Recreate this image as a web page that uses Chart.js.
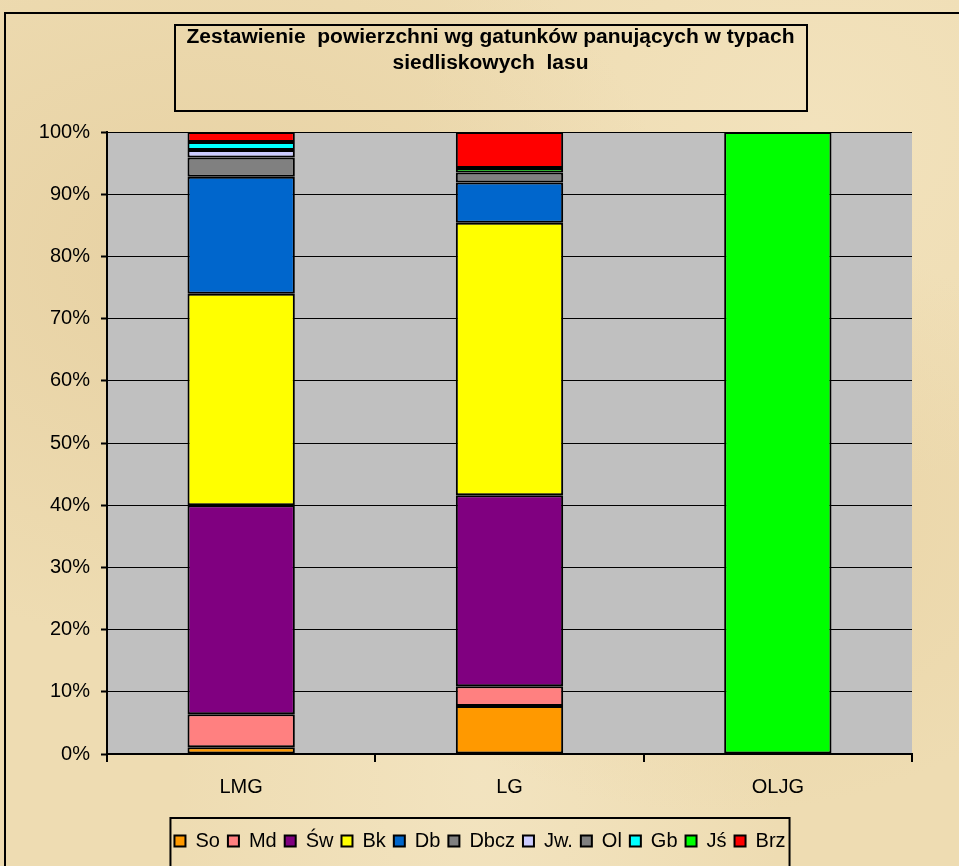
<!DOCTYPE html>
<html lang="pl">
<head>
  <meta charset="UTF-8" />
  <title>Zestawienie powierzchni wg gatunków panujących</title>
  <script src="https://cdn.jsdelivr.net/npm/chart.js"></script>
  <style>
    body {
      margin: 0;
      width: 959px;
      height: 866px;
      overflow: hidden;
      position: relative;
      font-family: Arial, "Liberation Sans", sans-serif;
      background-color: #eedcb2;
      background-image:
        radial-gradient(ellipse at 20% 30%, rgba(225, 200, 150, 0.55), transparent 45%),
        radial-gradient(ellipse at 75% 60%, rgba(230, 205, 155, 0.5), transparent 40%),
        radial-gradient(ellipse at 50% 90%, rgba(245, 232, 200, 0.6), transparent 45%),
        radial-gradient(ellipse at 85% 15%, rgba(245, 230, 195, 0.6), transparent 35%);
    }
    .frame {
      position: absolute;
      left: 4px;
      top: 12px;
      width: 1000px;
      height: 900px;
      border: 2px solid #000;
    }
    .title-box {
      position: absolute;
      left: 174px;
      top: 24px;
      width: 630px;
      height: 84px;
      border: 2px solid #000;
      text-align: center;
      font-weight: bold;
      font-size: 20px;
      line-height: 26px;
      color: #000;
    }
    .title-box span {
      position: relative;
      top: -3px;
      display: inline-block;
      transform: scaleX(1.05);
    }
    canvas {
      position: absolute;
      left: 0;
      top: 0;
    }
  </style>
</head>
<body>
  <div class="frame"></div>
  <canvas id="chart" width="959" height="866"></canvas>
  <div class="title-box"><span>Zestawienie&nbsp; powierzchni wg gatunków panujących w typach<br>siedliskowych&nbsp; lasu</span></div>

  <script>
  // categories (typy siedliskowe)
  const categories = ['LMG', 'LG', 'OLJG'];

  // share of each species, in %
  const So   = [1.1, 7.7, 0];
  const Md   = [5.3, 3.2, 0];
  const Sw   = [33.6, 30.7, 0];
  const Bk   = [34.0, 43.8, 0];
  const Db   = [18.8, 6.5, 0];
  const Dbcz = [3.1, 1.6, 0];
  const Jw   = [1.2, 0, 0];
  const Ol   = [0, 0, 0];
  const Gb   = [1.3, 0, 0];
  const Js   = [0, 0.7, 100];
  const Brz  = [1.6, 5.8, 0];

  const yTicks = [0, 10, 20, 30, 40, 50, 60, 70, 80, 90, 100];

  const series = [
    { label: 'So',   data: So,   color: '#ff9900' },
    { label: 'Md',   data: Md,   color: '#ff8080' },
    { label: 'Św',   data: Sw,   color: '#800080' },
    { label: 'Bk',   data: Bk,   color: '#ffff00' },
    { label: 'Db',   data: Db,   color: '#0066cc' },
    { label: 'Dbcz', data: Dbcz, color: '#808080' },
    { label: 'Jw.',  data: Jw,   color: '#ccccff' },
    { label: 'Ol',   data: Ol,   color: '#808080' },
    { label: 'Gb',   data: Gb,   color: '#00ffff' },
    { label: 'Jś',   data: Js,   color: '#00ff00' },
    { label: 'Brz',  data: Brz,  color: '#ff0000' }
  ];

  const FONT = 'Arial, "Liberation Sans", sans-serif';
  const LEGEND_SHIFT = 24; // legend is centred on the whole page, not on the plot

  const plotBg = {
    id: 'plotBg',
    beforeDraw(chart) {
      const a = chart.chartArea;
      const c = chart.ctx;
      c.save();
      c.fillStyle = '#c0c0c0';
      c.fillRect(a.left, a.top, a.right - a.left, a.bottom - a.top);
      c.restore();
    }
  };

  // move the legend over and put a frame round it
  const legendBox = {
    id: 'legendBox',
    afterLayout(chart) {
      const lg = chart.legend;
      lg.left += LEGEND_SHIFT;
      lg.right += LEGEND_SHIFT;
      lg.legendHitBoxes.forEach(b => { b.left += LEGEND_SHIFT; });
    },
    afterDraw(chart) {
      const boxes = chart.legend.legendHitBoxes;
      if (!boxes.length) return;
      let l = Infinity, r = -Infinity;
      boxes.forEach(b => { l = Math.min(l, b.left); r = Math.max(r, b.left + b.width); });
      const c = chart.ctx;
      c.save();
      c.strokeStyle = '#000';
      c.lineWidth = 2;
      c.strokeRect(l - 4, chart.legend.top - 5, r - l + 8, chart.height);
      c.restore();
    }
  };

  new Chart(document.getElementById('chart'), {
    type: 'bar',
    data: {
      labels: categories,
      datasets: series.map(s => ({
        label: s.label,
        data: s.data,
        backgroundColor: s.color,
        borderColor: '#000',
        borderWidth: 2,
        borderSkipped: false,
        barPercentage: 0.4,
        categoryPercentage: 1.0
      }))
    },
    options: {
      responsive: false,
      animation: false,
      layout: { padding: { top: 132, right: 47, left: 0, bottom: 5 } },
      plugins: {
        title: { display: false },
        tooltip: { enabled: false },
        legend: {
          position: 'bottom',
          labels: {
            color: '#000',
            font: { size: 20, family: FONT },
            boxWidth: 11,
            boxHeight: 11,
            padding: 8,
            generateLabels(chart) {
              return chart.data.datasets.map((d, i) => ({
                text: d.label,
                fillStyle: d.backgroundColor,
                strokeStyle: '#000',
                lineWidth: 2,
                fontColor: '#000',
                datasetIndex: i
              }));
            }
          }
        }
      },
      scales: {
        x: {
          stacked: true,
          afterFit(scale) { scale.height = 69; },
          grid: {
            offset: true,
            drawOnChartArea: false,
            drawTicks: true,
            tickLength: 8,
            color: '#000',
            lineWidth: 2
          },
          border: { color: '#000', width: 2 },
          ticks: {
            color: '#000',
            padding: 13,
            font: { size: 20, family: FONT }
          }
        },
        y: {
          stacked: true,
          min: 0,
          max: 100,
          afterFit(scale) { scale.width = 107; },
          afterBuildTicks(scale) { scale.ticks = yTicks.map(v => ({ value: v })); },
          grid: {
            color: '#000',
            lineWidth: 1,
            tickLength: 6,
            tickColor: '#000',
            tickWidth: 2
          },
          border: { color: '#000', width: 2 },
          ticks: {
            color: '#000',
            padding: 11,
            font: { size: 20, family: FONT },
            callback: v => v + '%'
          }
        }
      }
    },
    plugins: [plotBg, legendBox]
  });
  </script>
</body>
</html>
